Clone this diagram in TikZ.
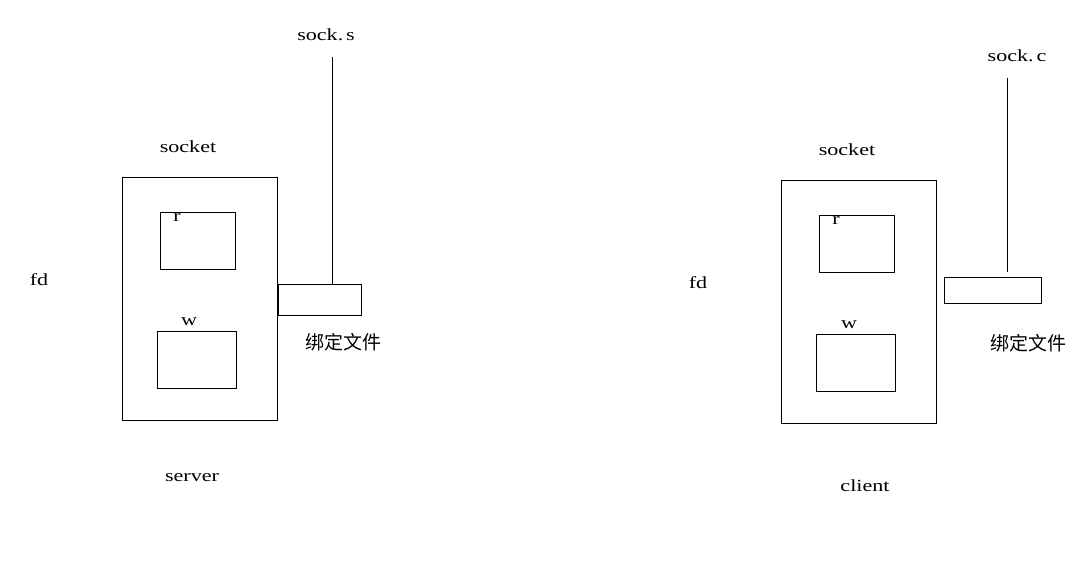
\documentclass[tikz,border=0pt]{standalone}
\usepackage{fontspec}
\setmainfont[FakeStretch=1.3]{Liberation Serif}
\newfontfamily\cjk{Noto Sans CJK SC}
\begin{document}
\begin{tikzpicture}[x=1pt,y=-1pt,
  box/.style={draw,line width=1pt,inner sep=0pt,anchor=north west},
  lbl/.style={inner sep=0pt,font=\fontsize{17}{17}\selectfont},
  cn/.style={inner sep=0pt,font=\cjk\fontsize{19}{19}\selectfont},
  wire/.style={line width=1pt}]
\fill[white] (0,0) rectangle (1077,586);
\useasboundingbox (0,0) rectangle (1077,586);
% server
\node[box,minimum width=155pt,minimum height=243pt] (so) at (122,177) {};
\node[box,minimum width=75pt,minimum height=57pt] (sr) at (160,212) {};
\node[box,minimum width=79pt,minimum height=57pt] (sw) at (157,331) {};
\node[box,minimum width=83pt,minimum height=31pt] (sf) at (278,284) {};
\node[lbl] (srl) at (177,217) {r};
\node[lbl] (swl) at (189,322) {w};
\node[lbl] (ssock) at (326,35) {sock.\,s};
\node[lbl] (ssocket) at (188,147) {socket};
\node[lbl] (sfd) at (39,280) {fd};
\node[cn] (sbind) at (343,342) {绑定文件};
\node[lbl] (sserver) at (192,478) {server};
\coordinate (stop) at (332,57);
\draw[wire] (stop) -- (stop |- sf.north);
% client
\node[box,minimum width=155pt,minimum height=243pt] (co) at (781,180) {};
\node[box,minimum width=75pt,minimum height=57pt] (cr) at (819,215) {};
\node[box,minimum width=79pt,minimum height=57pt] (cw) at (816,334) {};
\node[box,minimum width=97pt,minimum height=26pt] (cf) at (944,277) {};
\node[lbl] (crl) at (836,220) {r};
\node[lbl] (cwl) at (849,325) {w};
\node[lbl] (csock) at (1017,56) {sock.\,c};
\node[lbl] (csocket) at (847,150) {socket};
\node[lbl] (cfd) at (698,283) {fd};
\node[cn] (cbind) at (1028,343) {绑定文件};
\node[lbl] (cclient) at (865,486) {client};
\coordinate (ctop) at (1007,78);
\coordinate (cbot) at (1007,272);
\draw[wire] (ctop) -- (cbot);
\end{tikzpicture}
\end{document}
